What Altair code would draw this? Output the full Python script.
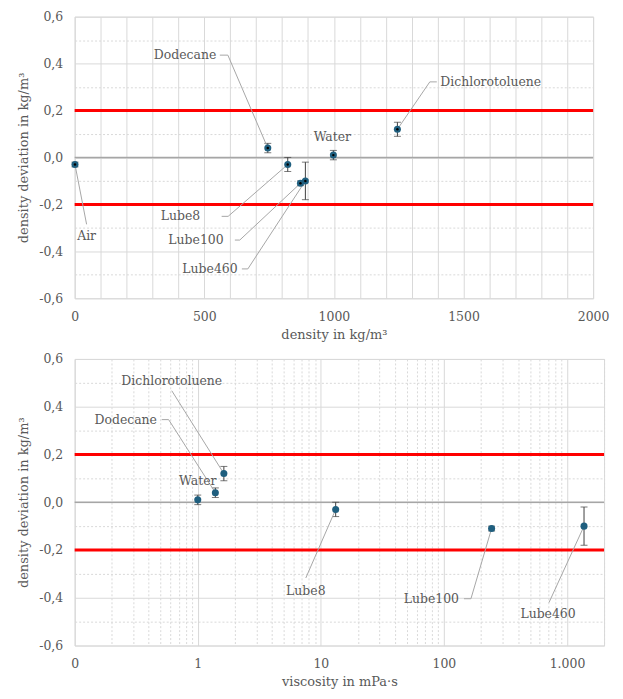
import altair as alt
import pandas as pd
import math

# ---------------- data ----------------
fluids = ["Air", "Dodecane", "Lube8", "Lube100", "Lube460", "Water", "Dichlorotoluene"]
density = [1.2, 745, 822, 871, 890, 998, 1245]          # kg/m^3
deviation = [-0.03, 0.04, -0.03, -0.11, -0.10, 0.01, 0.12]  # kg/m^3
uncertainty = [0.01, 0.02, 0.03, 0.01, 0.08, 0.02, 0.03]
viscosity = [None, 1.39, 13.2, 244, 1375, 1.0, 1.63]     # mPa*s
limits = [-0.2, 0.2]

# annotation placement (data units): label centre, leader start, leader elbow
top_label_x = [46, 426, 408, 468, 522, 994, 1605]
top_label_y = [-0.336, 0.436, -0.251, -0.352, -0.475, 0.088, 0.322]
top_lead_x = [46, 560, 567, 618, 645, None, 1397]
top_lead_y = [-0.285, 0.436, -0.251, -0.352, -0.475, None, 0.322]
top_elbow_x = [None, 591, 592, 637, 668, None, 1370]

bot_label_x = [None, 0.26, 7.55, 79.1, 701, 1.0, 0.615]
bot_label_y = [None, 0.346, -0.371, -0.404, -0.467, 0.0875, 0.508]
bot_lead_x = [None, 0.51, 7.55, 145.5, 714, None, 0.615]
bot_lead_y = [None, 0.346, -0.317, -0.404, -0.42, None, 0.467]
bot_elbow_x = [None, 0.58, None, 165.8, None, None, None]

FONT = "DejaVu Serif"
GREY = "#595959"

y_ticks = [round(v / 10, 1) for v in range(-6, 7)]
top_x_ticks = list(range(0, 2001, 100))
log_ticks = []
for e in range(-1, 4):
    for m in range(1, 10):
        v = round(m * 10 ** e, 6)
        if v <= 2000:
            log_ticks.append(v)

yscale = alt.Scale(domain=[-0.6, 0.6], nice=False, zero=False)
yaxis = alt.Axis(
    values=y_ticks,
    labelExpr="abs(round(datum.value*10)) % 2 == 0 ? replace(replace(format(datum.value, '.1f'), '.', ','), '\u2212', '-') : ''",
    title="density deviation in kg/m\u00b3",
    gridDash={"condition": {"test": "abs(round(datum.value*10)) % 2 == 1", "value": [2, 2]}, "value": []},
    labelPadding=12,
    titlePadding=8,
)

top_xscale = alt.Scale(domain=[0, 2000], nice=False, zero=False)
top_xaxis = alt.Axis(
    values=top_x_ticks,
    labelExpr="datum.value % 500 == 0 ? format(datum.value, 'd') : ''",
    title="density in kg/m\u00b3",
    labelFlush=False,
    labelPadding=12,
    titlePadding=6,
)

bot_xscale = alt.Scale(type="log", domain=[0.1, 2000], nice=False)
bot_xaxis = alt.Axis(
    values=log_ticks,
    labelExpr=(
        "abs(log(datum.value)/LN10 - round(log(datum.value)/LN10)) < 1e-6 ? "
        "(datum.value < 0.5 ? '0' : (datum.value > 500 ? '1.000' : format(datum.value, 'd'))) : ''"
    ),
    gridDash={"condition": {"test": "abs(log(datum.value)/LN10 - round(log(datum.value)/LN10)) > 1e-6", "value": [2, 2]}, "value": []},
    title="viscosity in mPa\u00b7s",
    labelFlush=False,
    labelOverlap=False,
    labelPadding=12,
    titlePadding=6,
)


def build(xs, label_x, label_y, lead_x, lead_y, elbow_x, xscale, xaxis, width, height, centre_dot):
    rows, ann, lead = [], [], []
    for i, name in enumerate(fluids):
        if xs[i] is None:
            continue
        rows.append({"name": name, "x": xs[i], "y": deviation[i],
                     "lo": deviation[i] - uncertainty[i], "hi": deviation[i] + uncertainty[i]})
        if label_x[i] is not None:
            ann.append({"name": name, "x": label_x[i], "y": label_y[i]})
        if lead_x[i] is not None:
            seq = 0
            lead.append({"name": name, "seq": seq, "x": lead_x[i], "y": lead_y[i]})
            if elbow_x[i] is not None:
                seq += 1
                lead.append({"name": name, "seq": seq, "x": elbow_x[i], "y": lead_y[i]})
            lead.append({"name": name, "seq": seq + 1, "x": xs[i], "y": deviation[i]})
    pts = pd.DataFrame(rows)
    ann = pd.DataFrame(ann)
    lead = pd.DataFrame(lead)
    lim = pd.DataFrame({"y": limits})
    zero = pd.DataFrame({"y": [0.0]})

    def X(f):
        return alt.X(f + ":Q", scale=xscale, axis=xaxis)

    def Y(f):
        return alt.Y(f + ":Q", scale=yscale, axis=yaxis)

    zero_l = alt.Chart(zero).mark_rule(color="#a6a6a6", strokeWidth=1.5).encode(y=Y("y"))
    lim_l = alt.Chart(lim).mark_rule(color="#ff0000", strokeWidth=3).encode(y=Y("y"))
    err = alt.Chart(pts).mark_rule(color="#404040", strokeWidth=1).encode(x=X("x"), y=Y("lo"), y2="hi")
    cap1 = alt.Chart(pts).mark_tick(orient="horizontal", size=7, thickness=1, color="#404040").encode(x=X("x"), y=Y("lo"))
    cap2 = alt.Chart(pts).mark_tick(orient="horizontal", size=7, thickness=1, color="#404040").encode(x=X("x"), y=Y("hi"))
    lead_l = alt.Chart(lead).mark_line(color="#a6a6a6", strokeWidth=1).encode(
        x=X("x"), y=Y("y"), detail="name:N", order="seq:Q")
    dots = alt.Chart(pts).mark_circle(size=50, color="#1f5f7f", opacity=1).encode(x=X("x"), y=Y("y"))
    txt = alt.Chart(ann).mark_text(font=FONT, fontSize=12.5, color=GREY).encode(
        x=X("x"), y=Y("y"), text="name:N")
    layers = [zero_l, lim_l, err, cap1, cap2, lead_l, dots]
    if centre_dot:
        layers.append(alt.Chart(pts).mark_circle(size=6, color="#000000", opacity=1).encode(x=X("x"), y=Y("y")))
    layers.append(txt)
    return alt.layer(*layers).properties(width=width, height=height)


top = build(density, top_label_x, top_label_y, top_lead_x, top_lead_y, top_elbow_x,
            top_xscale, top_xaxis, 521, 283, True)
bot = build(viscosity, bot_label_x, bot_label_y, bot_lead_x, bot_lead_y, bot_elbow_x,
            bot_xscale, bot_xaxis, 532, 288, False)

chart = alt.vconcat(top, bot, spacing=10).configure_view(
    stroke="#d9d9d9"
).configure_axis(
    labelFont=FONT, labelFontSize=12.5, labelColor=GREY,
    titleFont=FONT, titleFontSize=13, titleColor=GREY, titleFontWeight="normal",
    ticks=False, domain=False, gridColor="#d9d9d9", gridWidth=1,
).properties(padding={"left": 9, "top": 0, "right": 5, "bottom": 0})

chart.save("out.html", embed_options={"renderer": "svg", "actions": False})
